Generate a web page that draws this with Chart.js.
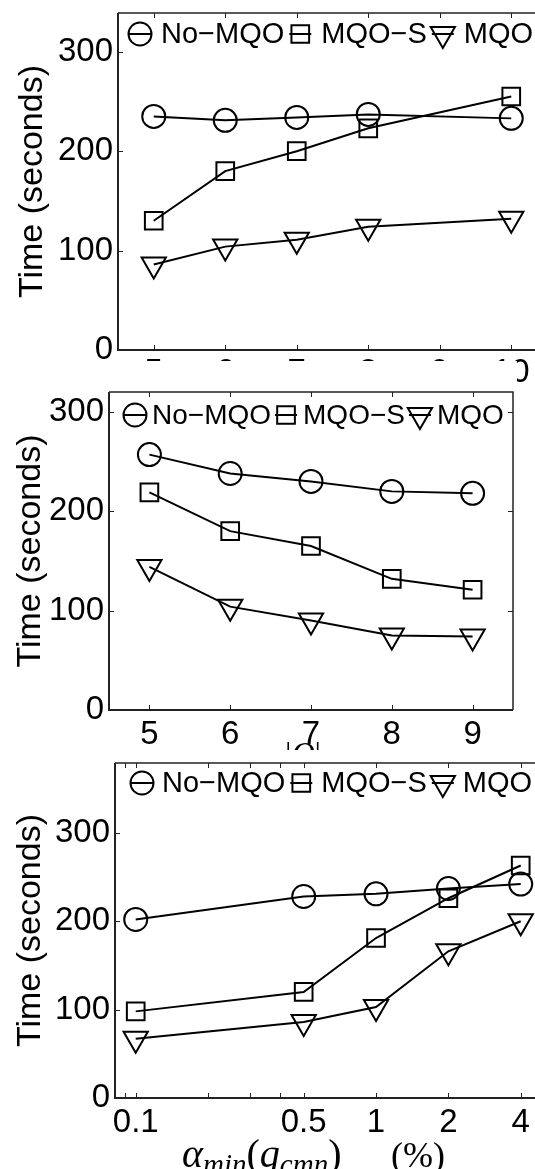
<!DOCTYPE html>
<html><head><meta charset="utf-8">
<script src="https://cdn.jsdelivr.net/npm/chart.js@4.4.1/dist/chart.umd.min.js"></script>
<style>
html,body{margin:0;padding:0;background:#fff;width:535px;height:1169px;overflow:hidden;position:relative}
.panel{position:absolute;left:0;overflow:hidden;background:#fff}
#p1{top:0;width:535px;height:400px;z-index:1}
#p2{top:361px;width:517px;height:389px;z-index:2}
#p3{top:750px;width:535px;height:419px;z-index:3}
canvas{display:block}
</style></head><body>
<div class="panel" id="p1"><canvas id="c1" width="560" height="400"></canvas></div>
<div class="panel" id="p2"><canvas id="c2" width="517" height="389"></canvas></div>
<div class="panel" id="p3"><canvas id="c3" width="560" height="419"></canvas></div>
<script>
// ---------- data ----------
const seriesNames = ['No\u2212MQO', 'MQO\u2212S', 'MQO'];
const yTitle = 'Time (seconds)';
const yTicks = [0, 100, 200, 300];

const p1X = [5, 6, 7, 8, 10];
const p1NoMQO = [235, 231, 234, 237, 233];
const p1MQOS = [130, 180, 200, 223, 255];
const p1MQO = [86, 104, 111, 124, 132];
const p1XTicks = [5, 6, 7, 8, 9, 10];

const p2X = [5, 6, 7, 8, 9];
const p2NoMQO = [257, 238, 230, 220, 218];
const p2MQOS = [219, 180, 165, 132, 121];
const p2MQO = [144, 104, 90, 75, 74];
const p2XTicks = [5, 6, 7, 8, 9];
const p2XTitle = ['|', 'Q', '|'];

const p3X = [0.1, 0.5, 1, 2, 4];
const p3NoMQO = [202, 228, 231, 237, 242];
const p3MQOS = [98, 120, 181, 226, 263];
const p3MQO = [67, 86, 103, 166, 200];
const p3XTicks = [0.09, 0.1, 0.2, 0.3, 0.4, 0.5, 1, 2, 4];
const p3XLabels = ['', '0.1', '', '', '', '0.5', '1', '2', '4'];
const p3XTitle = ['\u03B1', 'min', '(', 'q', 'cmn', ')'];
const p3XUnit = '(%)';

// ---------- styles ----------
const SANS = '"Liberation Sans", Arial, Helvetica, sans-serif';
const SERIF = '"Liberation Serif", "Times New Roman", serif';
const TICK_SIZE = 33;
const markers = [
  {pointStyle: 'circle', radius: 11.5, rotation: 0},
  {pointStyle: 'rect', radius: 12.5, rotation: 0},
  {pointStyle: 'triangle', radius: 14, rotation: 180}
];

function makeDatasets(xs, series) {
  return series.map((vals, i) => ({
    label: seriesNames[i],
    data: xs.map((x, j) => ({x: x, y: vals[j]})),
    borderColor: '#000',
    borderWidth: 2,
    backgroundColor: 'rgba(0,0,0,0)',
    pointStyle: markers[i].pointStyle,
    pointRadius: markers[i].radius,
    pointHoverRadius: markers[i].radius,
    pointRotation: markers[i].rotation,
    pointBorderWidth: 2,
    pointBorderColor: '#000',
    pointBackgroundColor: 'rgba(0,0,0,0)',
    tension: 0,
    fill: false,
    clip: false
  }));
}

const framePlugin = {
  id: 'frame',
  beforeDatasetsDraw(chart) {
    const {ctx, chartArea: a, scales: {x, y}} = chart;
    ctx.save();
    ctx.strokeStyle = '#222';
    ctx.lineWidth = 1.5;
    ctx.beginPath();
    ctx.moveTo(a.left, a.top); ctx.lineTo(a.right, a.top); ctx.lineTo(a.right, a.bottom);
    ctx.stroke();
    ctx.lineWidth = 2;
    ctx.beginPath();
    ctx.moveTo(a.left, a.top); ctx.lineTo(a.left, a.bottom); ctx.lineTo(a.right, a.bottom);
    ctx.stroke();
    ctx.lineWidth = 1;
    ctx.beginPath();
    x.ticks.forEach(t => {
      const px = Math.round(x.getPixelForValue(t.value)) + 0.5;
      ctx.moveTo(px, a.bottom); ctx.lineTo(px, a.bottom - 5);
      ctx.moveTo(px, a.top); ctx.lineTo(px, a.top + 5);
    });
    y.ticks.forEach(t => {
      const py = Math.round(y.getPixelForValue(t.value)) + 0.5;
      ctx.moveTo(a.left, py); ctx.lineTo(a.left + 5, py);
      ctx.moveTo(a.right, py); ctx.lineTo(a.right - 5, py);
    });
    ctx.stroke();
    ctx.restore();
  }
};

const legendPlugin = {
  id: 'mlegend',
  afterDatasetsDraw(chart, args, o) {
    const ctx = chart.ctx;
    ctx.save();
    ctx.font = o.size + 'px ' + SANS;
    ctx.textBaseline = 'middle';
    ctx.textAlign = 'left';
    let x0 = o.x0;
    chart.data.datasets.forEach((ds, i) => {
      ctx.strokeStyle = '#000';
      ctx.lineWidth = 2;
      ctx.beginPath();
      ctx.moveTo(x0, o.y); ctx.lineTo(x0 + 22, o.y);
      ctx.stroke();
      ctx.fillStyle = 'rgba(0,0,0,0)';
      ctx.lineWidth = 2;
      Chart.helpers.drawPoint(ctx, {pointStyle: markers[i].pointStyle, radius: markers[i].radius,
        rotation: markers[i].rotation, borderWidth: 2}, x0 + 11, o.y);
      ctx.fillStyle = '#000';
      const tx = x0 + o.textOffset;
      ctx.fillText(ds.label, tx, o.y + 1);
      x0 = tx + ctx.measureText(ds.label).width + o.gap;
    });
    ctx.restore();
  }
};

function segFont(s) { return (s.italic ? 'italic ' : '') + s.size + 'px ' + SERIF; }
function drawRich(ctx, segs, x, baseline, center) {
  const w = segs.map(s => { ctx.font = segFont(s); return ctx.measureText(s.t).width; });
  let cx = center ? x - w.reduce((a, b) => a + b, 0) / 2 : x;
  segs.forEach((s, i) => {
    ctx.font = segFont(s);
    ctx.fillText(s.t, cx, baseline + (s.dy || 0));
    cx += w[i];
  });
}

const xTitlePlugin = {
  id: 'xmath',
  afterDraw(chart, args, o) {
    if (!o.parts) return;
    const ctx = chart.ctx;
    ctx.save();
    ctx.fillStyle = '#000';
    ctx.textBaseline = 'alphabetic';
    ctx.textAlign = 'left';
    o.parts.forEach(p => drawRich(ctx, p.segs, p.x, p.baseline, p.center));
    ctx.restore();
  }
};

function noPad(s) { s.paddingTop = 0; s.paddingBottom = 0; s.paddingLeft = 0; s.paddingRight = 0; }

function makeChart(id, cfg) {
  const canvas = document.getElementById(id);
  const pad = {left: 0, top: cfg.area.top, right: canvas.width - cfg.area.right, bottom: 0};
  const yScale = {
    type: 'linear', min: 0, max: cfg.yMax,
    grid: {display: false, drawTicks: false}, border: {display: false},
    afterBuildTicks: s => { s.ticks = yTicks.map(v => ({value: v})); },
    afterFit: s => { s.width = cfg.area.left; noPad(s); },
    ticks: {padding: 5, color: '#000', font: {family: SANS, size: TICK_SIZE}},
    title: {display: true, text: yTitle, color: '#000', font: {family: SANS, size: 34, lineHeight: 1.2},
      padding: {top: cfg.yTitlePad, bottom: 0}}
  };
  const xScale = Object.assign({
    grid: {display: false, drawTicks: false}, border: {display: false},
    afterBuildTicks: s => { s.ticks = cfg.xTicks.map(v => ({value: v})); },
    afterFit: s => { s.height = canvas.height - cfg.area.bottom; noPad(s); },
    ticks: {padding: cfg.xTickPad, color: '#000', autoSkip: false, maxRotation: 0, minRotation: 0,
      font: {family: SANS, size: TICK_SIZE},
      callback: cfg.xLabels ? ((v, i) => cfg.xLabels[i]) : (v => String(v))}
  }, cfg.xScale);
  return new Chart(canvas, {
    type: 'line',
    data: {datasets: cfg.datasets},
    options: {
      responsive: false, animation: false, devicePixelRatio: 1,
      layout: {padding: pad, autoPadding: false},
      scales: {x: xScale, y: yScale},
      plugins: {
        legend: {display: false}, tooltip: {enabled: false},
        mlegend: cfg.legend,
        xmath: {parts: cfg.xParts || null}
      }
    },
    plugins: [framePlugin, legendPlugin, xTitlePlugin]
  });
}

makeChart('c1', {
  datasets: makeDatasets(p1X, [p1NoMQO, p1MQOS, p1MQO]),
  xScale: {type: 'linear', min: 4.5, max: 10.5},
  xTicks: p1XTicks, yMax: 339, yTitlePad: 12, xTickPad: 3.5,
  area: {left: 118, top: 13, right: 547, bottom: 350},
  legend: {x0: 129, textOffset: 32, gap: 5, size: 29, y: 34}
});

makeChart('c2', {
  datasets: makeDatasets(p2X, [p2NoMQO, p2MQOS, p2MQO]),
  xScale: {type: 'linear', min: 4.5, max: 9.5},
  xTicks: p2XTicks, yMax: 320, yTitlePad: 10, xTickPad: 5,
  area: {left: 109, top: 31, right: 513, bottom: 349},
  legend: {x0: 124, textOffset: 28, gap: 4, size: 28, y: 54},
  xParts: [{x: 303, baseline: 403, center: true, segs: [
    {t: p2XTitle[0], size: 32}, {t: p2XTitle[1], size: 32, italic: true}, {t: p2XTitle[2], size: 32}]}]
});

makeChart('c3', {
  datasets: makeDatasets(p3X, [p3NoMQO, p3MQOS, p3MQO]),
  xScale: {type: 'logarithmic', min: 0.082, max: 5},
  xTicks: p3XTicks, xLabels: p3XLabels, yMax: 379, yTitlePad: 10, xTickPad: 5,
  area: {left: 115, top: 13, right: 544, bottom: 348},
  legend: {x0: 131, textOffset: 31, gap: 5, size: 29, y: 33},
  xParts: [
    {x: 182, baseline: 417, center: false, segs: [
      {t: p3XTitle[0], size: 40, italic: true}, {t: p3XTitle[1], size: 29, italic: true, dy: 7},
      {t: p3XTitle[2], size: 40}, {t: p3XTitle[3], size: 40, italic: true},
      {t: p3XTitle[4], size: 29, italic: true, dy: 7}, {t: p3XTitle[5], size: 40}]},
    {x: 391, baseline: 417, center: false, segs: [{t: p3XUnit, size: 36}]}
  ]
});
</script>
</body></html>
